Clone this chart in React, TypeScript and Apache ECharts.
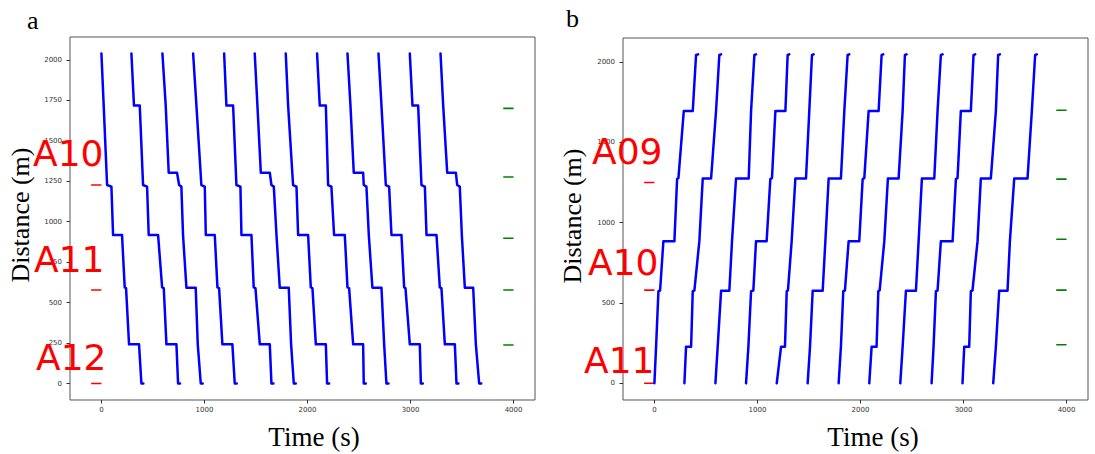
import React, { useEffect, useRef } from "react";
import * as echarts from "echarts";

// ---------- Panel a (trains running down, 2040 m -> 0 m) ----------
const profileA = [2040, 1718, 1227, 1217, 918, 918, 594, 590, 242, 242, 0, 0];
const profileB = [2040, 1718, 1718, 1227, 1217, 918, 918, 594, 590, 242, 242, 0, 0];
const profileC = [2040, 1718, 1303, 1303, 1227, 1217, 918, 592, 592, 242, 0, 0];

const timesA = [
  [0, 22, 55, 97, 113, 200, 226, 239, 268, 365, 388, 407],
  [890, 922, 970, 1003, 1013, 1100, 1126, 1142, 1174, 1271, 1294, 1313],
  [1789, 1812, 1860, 1893, 1909, 2006, 2032, 2048, 2081, 2178, 2190, 2210],
  [2689, 2718, 2760, 2792, 2815, 2912, 2938, 2951, 2993, 3090, 3100, 3119],
];
const timesB = [
  [291, 316, 372, 404, 443, 459, 550, 589, 605, 631, 728, 744, 763],
  [1191, 1213, 1278, 1310, 1349, 1359, 1456, 1478, 1495, 1537, 1634, 1650, 1669],
  [2093, 2119, 2178, 2200, 2232, 2258, 2362, 2388, 2404, 2443, 2540, 2546, 2566],
  [2993, 3019, 3074, 3106, 3139, 3155, 3252, 3284, 3300, 3333, 3430, 3446, 3465],
];
const timesC = [
  [592, 624, 653, 734, 754, 776, 792, 825, 915, 935, 964, 983],
  [1488, 1514, 1547, 1634, 1650, 1673, 1699, 1731, 1818, 1841, 1867, 1886],
  [2388, 2417, 2449, 2540, 2546, 2572, 2595, 2630, 2718, 2744, 2766, 2786],
  [3291, 3317, 3356, 3440, 3453, 3478, 3498, 3527, 3608, 3634, 3666, 3686],
];
const redLevelsA = [0, 578, 1227];
const greenLevelsA = [238, 578, 898, 1277, 1701];
const yTicksA = [0, 250, 500, 750, 1000, 1250, 1500, 1750, 2000];

// ---------- Panel b (trains running up, 0 m -> 2048 m) ----------
const profileP = [0, 228, 574, 578, 885, 885, 1272, 1278, 1696, 1696, 2044, 2048];
const profileQ = [0, 228, 228, 574, 578, 885, 1275, 1275, 1696, 2044, 2048];
const profileR = [0, 228, 576, 576, 885, 1275, 1275, 1696, 2044, 2048];

const timesP = [
  [0, 16, 39, 55, 87, 194, 220, 233, 285, 372, 404, 424],
  [889, 912, 938, 960, 986, 1089, 1125, 1141, 1174, 1271, 1293, 1309],
  [1788, 1810, 1833, 1849, 1885, 1988, 2021, 2037, 2079, 2176, 2205, 2221],
  [2690, 2709, 2732, 2748, 2780, 2894, 2926, 2942, 2974, 3071, 3097, 3113],
];
const timesQ = [
  [291, 307, 356, 372, 388, 436, 469, 550, 598, 630, 647],
  [1187, 1229, 1267, 1284, 1296, 1332, 1368, 1471, 1503, 1529, 1545],
  [2085, 2108, 2156, 2173, 2186, 2231, 2266, 2370, 2409, 2431, 2447],
  [2990, 3007, 3055, 3071, 3087, 3136, 3168, 3265, 3314, 3336, 3353],
];
const timesR = [
  [592, 614, 647, 727, 753, 792, 915, 938, 970, 986],
  [1487, 1510, 1536, 1633, 1659, 1691, 1810, 1843, 1875, 1891],
  [2386, 2409, 2441, 2538, 2564, 2596, 2716, 2748, 2780, 2797],
  [3288, 3314, 3346, 3427, 3450, 3492, 3621, 3663, 3695, 3711],
];
const redLevelsB = [0, 580, 1250];
const greenLevelsB = [240, 580, 897, 1271, 1700];
const yTicksB = [0, 500, 1000, 1500, 2000];

const xTicks = [0, 1000, 2000, 3000, 4000];
const redSpan = [-100, 0];
const greenSpan = [3900, 4000];

const labelsA = ["A10", "A11", "A12"];
const labelsB = ["A09", "A10", "A11"];

function trainSeries(profile: number[], times: number[][], idx: number) {
  return times.map((ts) => ({
    type: "line",
    xAxisIndex: idx,
    yAxisIndex: idx,
    showSymbol: false,
    silent: true,
    lineStyle: { color: "#0000ff", width: 2.5, join: "round", cap: "round" },
    data: ts.map((t, i) => [t, profile[i]]),
    z: 3,
  }));
}

function dashSeries(levels: number[], span: number[], color: string, idx: number) {
  return levels.map((lv) => ({
    type: "line",
    xAxisIndex: idx,
    yAxisIndex: idx,
    showSymbol: false,
    silent: true,
    lineStyle: { color, width: 1.6 },
    data: [
      [span[0], lv],
      [span[1], lv],
    ],
    z: 2,
  }));
}

export default function App() {
  const ref = useRef<HTMLDivElement>(null);
  useEffect(() => {
    if (!ref.current) return;
    document.body.style.margin = "0";
    const chart = echarts.init(ref.current, undefined, { renderer: "svg" });
    const tickLabel = {
      fontSize: 7,
      color: "#333",
      fontFamily: "DejaVu Sans",
      formatter: (v: number) => String(v),
    };
    const mkX = (idx: number) => ({
      type: "value",
      gridIndex: idx,
      min: -305,
      max: 4208,
      splitLine: { show: false },
      axisLine: { show: false, onZero: false },
      axisTick: { show: true, length: 3.5, lineStyle: { color: "#333" }, customValues: xTicks },
      axisLabel: { ...tickLabel, margin: 6, customValues: xTicks },
    });
    const mkY = (idx: number, min: number, max: number, ticks: number[]) => ({
      type: "value",
      gridIndex: idx,
      min,
      max,
      splitLine: { show: false },
      axisLine: { show: false, onZero: false },
      axisTick: { show: true, length: 3.5, lineStyle: { color: "#333" }, customValues: ticks },
      axisLabel: { ...tickLabel, margin: 8, customValues: ticks },
    });
    const serif = "Liberation Serif";
    const redText = (text: string, x: number, y: number) => ({
      type: "text",
      x,
      y,
      z: 10,
      style: {
        text,
        fill: "#ff0000",
        font: '36px "DejaVu Sans"',
        align: "left",
        verticalAlign: "middle",
      },
    });
    chart.setOption({
      animation: false,
      backgroundColor: "#ffffff",
      grid: [
        { left: 70, top: 37, right: 560, bottom: 54, show: true, borderColor: "#555", borderWidth: 1, backgroundColor: "transparent" },
        { left: 623, top: 38, right: 7, bottom: 54, show: true, borderColor: "#555", borderWidth: 1, backgroundColor: "transparent" },
      ],
      xAxis: [mkX(0), mkX(1)],
      yAxis: [mkY(0, -102, 2142, yTicksA), mkY(1, -104, 2150, yTicksB)],
      series: [
        ...dashSeries(redLevelsA, redSpan, "#ff0000", 0),
        ...dashSeries(greenLevelsA, greenSpan, "#008000", 0),
        ...trainSeries(profileA, timesA, 0),
        ...trainSeries(profileB, timesB, 0),
        ...trainSeries(profileC, timesC, 0),
        ...dashSeries(redLevelsB, redSpan, "#ff0000", 1),
        ...dashSeries(greenLevelsB, greenSpan, "#008000", 1),
        ...trainSeries(profileP, timesP, 1),
        ...trainSeries(profileQ, timesQ, 1),
        ...trainSeries(profileR, timesR, 1),
      ],
      graphic: [
        { type: "text", x: 27, y: 20, style: { text: "a", font: `26px "${serif}"`, fill: "#000", align: "left", verticalAlign: "middle" } },
        { type: "text", x: 566, y: 18, style: { text: "b", font: `26px "${serif}"`, fill: "#000", align: "left", verticalAlign: "middle" } },
        { type: "text", x: 20, y: 215, rotation: Math.PI / 2, style: { text: "Distance (m)", font: `26px "${serif}"`, fill: "#000", align: "center", verticalAlign: "middle" } },
        { type: "text", x: 572, y: 216, rotation: Math.PI / 2, style: { text: "Distance (m)", font: `26px "${serif}"`, fill: "#000", align: "center", verticalAlign: "middle" } },
        { type: "text", x: 314, y: 437, style: { text: "Time (s)", font: `27px "${serif}"`, fill: "#000", align: "center", verticalAlign: "middle" } },
        { type: "text", x: 873, y: 437, style: { text: "Time (s)", font: `27px "${serif}"`, fill: "#000", align: "center", verticalAlign: "middle" } },
        redText(labelsA[0], 33, 153),
        redText(labelsA[1], 34, 259),
        redText(labelsA[2], 36, 357),
        redText(labelsB[0], 592, 151),
        redText(labelsB[1], 588, 262),
        redText(labelsB[2], 584, 360),
      ],
    });
    return () => chart.dispose();
  }, []);
  return <div ref={ref} style={{ width: 1095, height: 454 }} />;
}
